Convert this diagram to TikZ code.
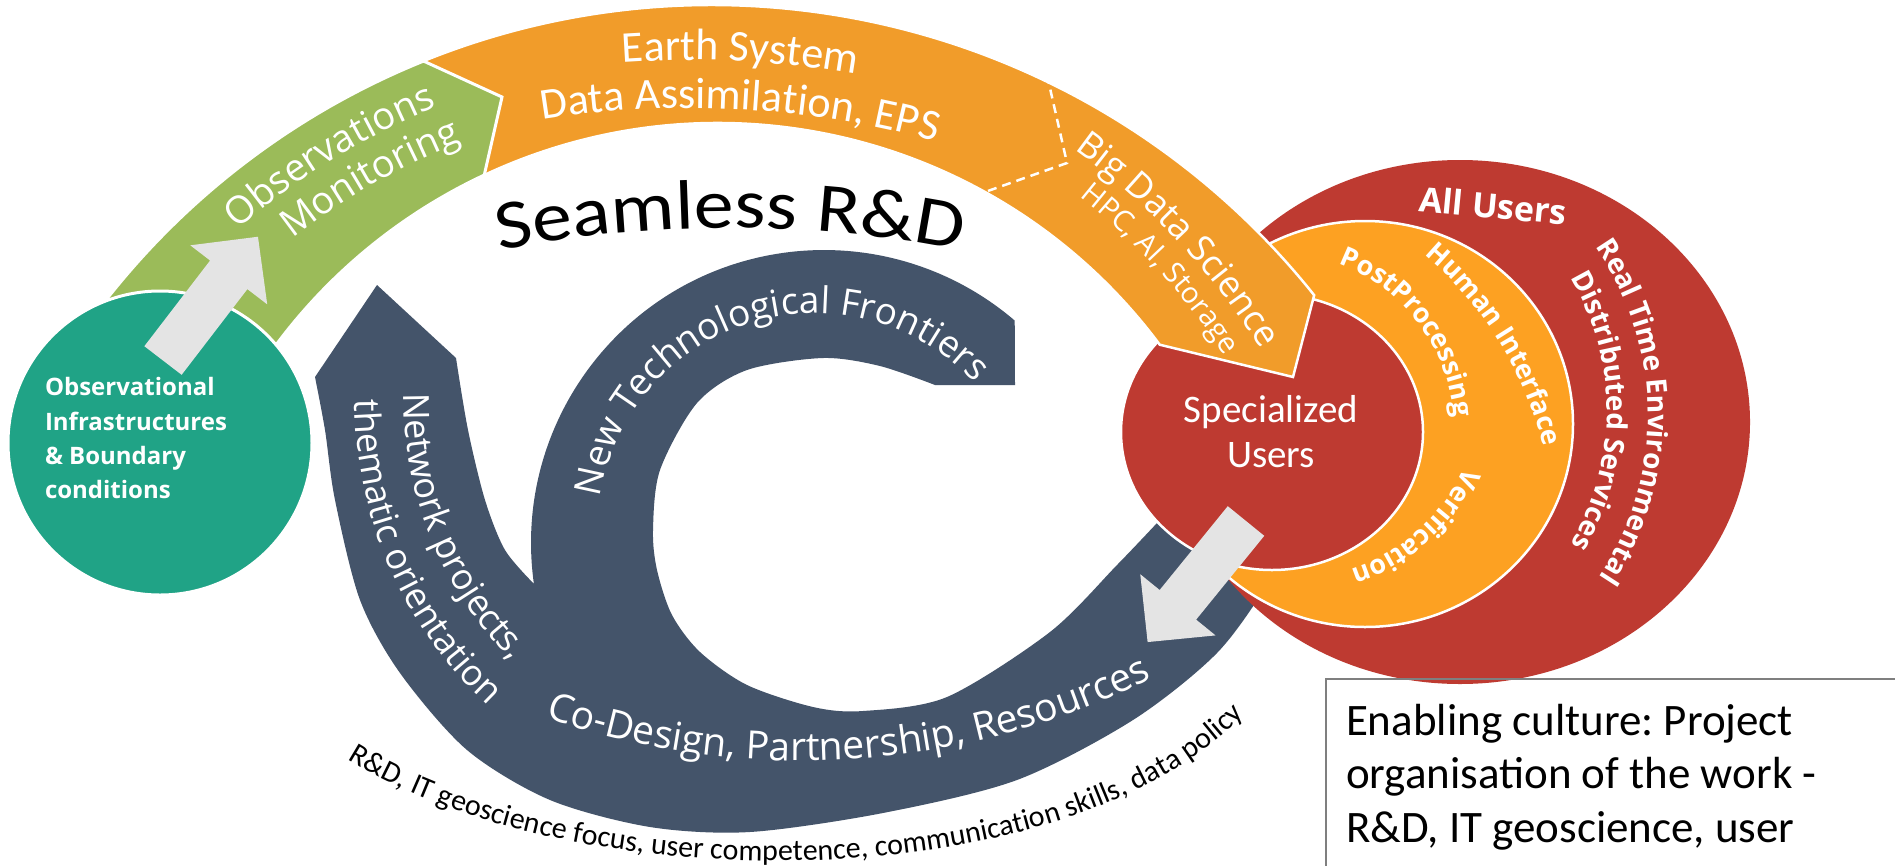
\documentclass[tikz,border=0pt]{standalone}
\usepackage{fontspec}
\setmainfont{Carlito}
\newfontfamily\osans{Open Sans}
\newfontfamily\seamfont{Carlito}[FakeStretch=1.14]
\usetikzlibrary{decorations.text}
\frenchspacing
\definecolor{cgreen}{HTML}{9BBB59}
\definecolor{corange}{HTML}{F19C2A}
\definecolor{cteal}{HTML}{20A386}
\definecolor{cdark}{HTML}{44546A}
\definecolor{cred}{HTML}{BE3A31}
\definecolor{cring}{HTML}{FDA122}
\definecolor{cgray}{HTML}{E4E4E4}
\definecolor{cbox}{HTML}{7F7F7F}
\newcommand\fObs{\osans\fontsize{38}{44}\selectfont}
\newcommand\fEarth{\fontsize{44}{50}\selectfont}
\newcommand\fBig{\osans\fontsize{36}{40}\selectfont}
\newcommand\fHpc{\osans\fontsize{29}{34}\selectfont}
\newcommand\fSeam{\seamfont\fontsize{70}{74}\selectfont}
\newcommand\fNew{\osans\fontsize{37}{40}\selectfont}
\newcommand\fNet{\osans\fontsize{36}{40}\selectfont}
\newcommand\fCo{\osans\fontsize{39}{44}\selectfont}
\newcommand\fRD{\fontsize{30}{34}\selectfont}
\newcommand\fRing{\osans\bfseries\fontsize{27}{32}\selectfont}
\newcommand\fReal{\osans\bfseries\fontsize{28}{32}\selectfont}
\newcommand\fAll{\osans\bfseries\fontsize{34}{40}\selectfont}
\newcommand\fTeal{\osans\bfseries\fontsize{24}{34}\selectfont}
\newcommand\fSpec{\fontsize{39}{45}\selectfont}
\newcommand\fBox{\fontsize{45}{54}\selectfont}
\tikzset{
  ontext/.style 2 args={decorate,decoration={text along path,text align=center,text color=#1,text={#2}}},
  grayarrow/.pic={\fill[cgray] (0,-23.5) -- (108,-23.5) -- (108,-48.5) -- (156,0) -- (108,48.5) -- (108,23.5) -- (0,23.5) -- cycle;},
  lbl/.style={inner sep=0pt, outer sep=0pt},
  whiteedge/.style={draw=white, line width=3pt}
}
\begin{document}
\begin{tikzpicture}[x=1pt,y=1pt]
\useasboundingbox (0,0) rectangle (1895,-865);
\clip (0,0) rectangle (1895,-865);
\fill[white] (0,0) rectangle (1895,-865);

% dark spiral band (U + C)
\fill[cdark] (377,-285) -- (456,-358)
  -- plot[smooth] coordinates {(456,-358) (468,-430) (485,-500) (505,-550) (533.9,-583.8)}
  arc[start angle=188, end angle=49.4, radius=293]
  -- (1015,-385) -- (935,-385)
  -- plot[smooth] coordinates {(935,-385) (880,-366) (823,-358) (747,-370) (697,-403) (660,-470) (653,-530) (657,-570) (672,-615) (700,-652) (747,-685) (813,-707) (863,-711) (947,-697) (1050,-632) (1117,-565) (1157,-523)}
  -- (1200,-470) -- (1310,-470)
  -- plot[smooth] coordinates {(1300,-520) (1270,-580) (1217,-653) (1133,-720) (1017,-780) (883,-813) (750,-832) (650,-827) (550,-800) (467,-750) (400,-673) (360,-600) (335,-500) (325,-430) (315,-377)}
  -- cycle;

% user ellipses
\fill[cred] (1460,-422) ellipse [x radius=290, y radius=262];
\fill[cring, draw=white, line width=2.5pt] (1365,-424) ellipse [x radius=208, y radius=203];
\fill[cred, draw=white, line width=2.5pt] (1272,-432) ellipse [x radius=151, y radius=138];

% orange band
\fill[corange, draw=white, line width=2.5pt]
  ([shift={(116:770)}]712,-775) arc[start angle=116, end angle=38.55, radius=770]
  -- (1293,-377) -- ([shift={(36.7:551)}]718,-674)
  arc[start angle=36.7, end angle=118, radius=551] -- cycle;
\draw[white, line width=2.5pt, dash pattern=on 9pt off 6pt] (1047,-75) -- (1067,-163) -- (985,-192);

% green band
\fill[cgreen, whiteedge]
  ([shift={(150:770)}]712,-775) arc[start angle=150, end angle=112, radius=770]
  -- (502,-97) -- ([shift={(115.1:551)}]718,-674)
  arc[start angle=115.1, end angle=150, radius=551] -- cycle;

% teal circle
\fill[cteal, whiteedge] (160,-443) circle [radius=152];

% gray arrows
\pic[rotate=52.5] at (163,-360.5) {grayarrow};
\pic[rotate=230.9] at (1246,-521) {grayarrow};

% texts on the upper band
\path[ontext={white}{|\fObs|Observations}] ([shift={(146.7:723)}]712,-775) arc[start angle=146.7, end angle=96.7, radius=723];
\path[ontext={white}{|\fObs|Monitoring}] ([shift={(144.8:681)}]712,-775) arc[start angle=144.8, end angle=94.8, radius=681];
\path[ontext={white}{|\fEarth|Earth System}] ([shift={(97.05:972)}]690,-1032) arc[start angle=97.05, end angle=77.05, radius=972];
\path[ontext={white}{|\fEarth|Data Assimilation, EPS}] ([shift={(101.9:924)}]690,-1032) arc[start angle=101.9, end angle=71.9, radius=924];
\path[ontext={white}{|\fBig|Big Data Science}] ([shift={(73:687)}]675,-709) arc[start angle=73, end angle=13, radius=687];
\path[ontext={white}{|\fHpc|HPC, AI, Storage}] ([shift={(72.2:653)}]675,-709) arc[start angle=72.2, end angle=12.2, radius=653];

% title
\path[ontext={black}{|\fSeam|Seamless R{\&}D}] ([shift={(102:1200)}]730,-1428) arc[start angle=102, end angle=78, radius=1200];

% texts on the dark band
\path[ontext={white}{|\fNew|New Technological Frontiers}] ([shift={(187:217)}]815,-530) arc[start angle=187, end angle=27, radius=217];
\path[ontext={white}{|\fNet|Network projects,}] ([shift={(162:366)}]770,-401) arc[start angle=162, end angle=242, radius=366];
\path[ontext={white}{|\fNet|thematic orientation}] ([shift={(163.5:415)}]770,-401) arc[start angle=163.5, end angle=243.5, radius=415];
\path[ontext={white}{|\fCo|Co-Design, Partnership, Resources}] ([shift={(243.7:781)}]802,20.3) arc[start angle=243.7, end angle=303.7, radius=781];
\path[ontext={black}{|\fRD|R{\&}D, IT geoscience focus, user competence, communication skills, data policy}] (333,-750) .. controls (560,-905) and (1080,-905) .. (1255,-703);

% texts on the user ellipses
\path[ontext={white}{|\fRing|Human Interface}] ([shift={(61.75:366)}]1188,-534) arc[start angle=61.75, end angle=1.75, radius=366];
\path[ontext={white}{|\fRing|PostProcessing}] ([shift={(77:180)}]1275,-432) arc[start angle=77, end angle=-3, radius=180];
\path[ontext={white}{|\fRing|Verification}] ([shift={(-8.35:187)}]1294,-391) arc[start angle=-8.35, end angle=-88.35, radius=187];
\path[ontext={white}{|\fReal|Real Time Environmental}] ([shift={(45.7:293)}]1355,-415) arc[start angle=45.7, end angle=-44.3, radius=293];
\path[ontext={white}{|\fReal|Distributed Services}] ([shift={(40:262)}]1345,-411) arc[start angle=40, end angle=-40, radius=262];
\node[lbl, anchor=base, rotate=-5.4, font=\fAll, text=white] (allusers) at (1492,-218) {All Users};
\node[lbl, anchor=base, font=\fSpec, text=white] (spec1) at (1271,-422) {Specialized};
\node[lbl, anchor=base, font=\fSpec, text=white] (spec2) at (1271,-467) {Users};

% teal circle text
\node[lbl, anchor=base west, font=\fTeal, text=white] (obs1) at (45,-395) {Observational};
\node[lbl, anchor=base west, font=\fTeal, text=white] (obs2) at (45,-430) {Infrastructures};
\node[lbl, anchor=base west, font=\fTeal, text=white] (obs3) at (45,-464) {\& Boundary};
\node[lbl, anchor=base west, font=\fTeal, text=white] (obs4) at (45,-498) {conditions};

% enabling culture box
\draw[cbox, line width=1.5pt] (1326,-880) -- (1326,-679) -- (1910,-679);
\node[lbl, anchor=base west, font=\fBox] (box1) at (1346,-735) {Enabling culture: Project};
\node[lbl, anchor=base west, font=\fBox] (box2) at (1346,-788) {organisation of the work -};
\node[lbl, anchor=base west, font=\fBox] (box3) at (1346,-842) {R\&D, IT geoscience, user};
\end{tikzpicture}
\end{document}
